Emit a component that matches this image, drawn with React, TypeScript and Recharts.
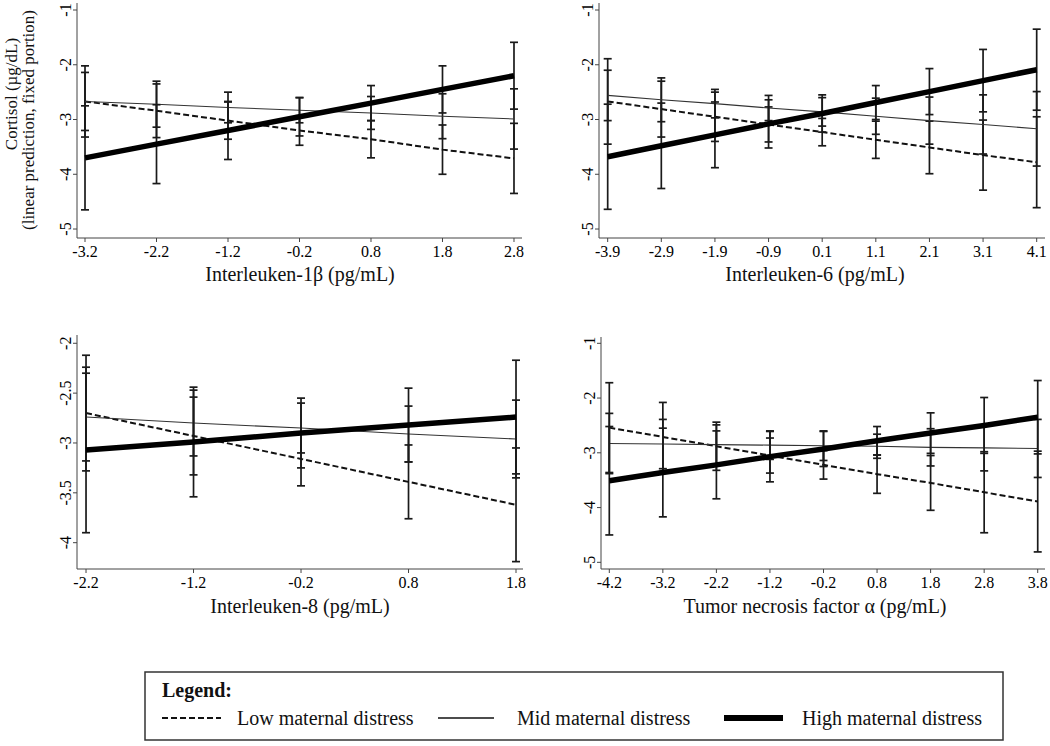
import React from 'react';
import { LineChart, Line, XAxis, YAxis, ErrorBar } from 'recharts';

const FONT = "'Liberation Serif', 'Times New Roman', Times, serif";

// ---------- Panel 1: Interleuken-1β ----------
const il1bX = [-3.2, -2.2, -1.2, -0.2, 0.8, 1.8, 2.8];
const il1bLow = [-2.67, -2.84, -3.02, -3.2, -3.36, -3.55, -3.71];
const il1bMid = [-2.67, -2.72, -2.78, -2.83, -2.88, -2.94, -2.99];
const il1bHigh = [-3.7, -3.45, -3.2, -2.95, -2.7, -2.45, -2.2];
const il1bLowCI = [0.65, 0.49, 0.34, 0.27, 0.34, 0.45, 0.64];
const il1bMidCI = [0.53, 0.42, 0.28, 0.23, 0.3, 0.41, 0.55];
const il1bHighCI = [0.95, 0.72, 0.53, 0.35, 0.32, 0.43, 0.61];

// ---------- Panel 2: Interleuken-6 ----------
const il6X = [-3.9, -2.9, -1.9, -0.9, 0.1, 1.1, 2.1, 3.1, 4.1];
const il6Low = [-2.67, -2.81, -2.95, -3.09, -3.23, -3.37, -3.51, -3.65, -3.78];
const il6Mid = [-2.56, -2.64, -2.71, -2.79, -2.86, -2.94, -3.02, -3.09, -3.17];
const il6High = [-3.68, -3.48, -3.28, -3.08, -2.89, -2.69, -2.49, -2.29, -2.09];
const il6LowCI = [0.78, 0.51, 0.45, 0.32, 0.25, 0.34, 0.48, 0.64, 0.83];
const il6MidCI = [0.46, 0.4, 0.26, 0.23, 0.26, 0.33, 0.43, 0.54, 0.68];
const il6HighCI = [0.96, 0.78, 0.6, 0.44, 0.34, 0.31, 0.42, 0.57, 0.74];

// ---------- Panel 3: Interleuken-8 ----------
const il8X = [-2.2, -1.2, -0.2, 0.8, 1.8];
const il8Low = [-2.7, -2.93, -3.16, -3.39, -3.62];
const il8Mid = [-2.74, -2.8, -2.85, -2.91, -2.96];
const il8High = [-3.07, -2.99, -2.9, -2.82, -2.74];
const il8LowCI = [0.58, 0.39, 0.27, 0.37, 0.57];
const il8MidCI = [0.44, 0.33, 0.25, 0.28, 0.39];
const il8HighCI = [0.83, 0.55, 0.35, 0.37, 0.57];

// ---------- Panel 4: Tumor necrosis factor α ----------
const tnfX = [-4.2, -3.2, -2.2, -1.2, -0.2, 0.8, 1.8, 2.8, 3.8];
const tnfLow = [-2.54, -2.71, -2.88, -3.05, -3.22, -3.39, -3.55, -3.72, -3.89];
const tnfMid = [-2.83, -2.84, -2.85, -2.86, -2.87, -2.88, -2.9, -2.91, -2.92];
const tnfHigh = [-3.51, -3.36, -3.22, -3.07, -2.93, -2.78, -2.64, -2.5, -2.35];
const tnfLowCI = [0.82, 0.63, 0.44, 0.32, 0.26, 0.35, 0.5, 0.74, 0.92];
const tnfMidCI = [0.55, 0.45, 0.36, 0.26, 0.27, 0.22, 0.34, 0.42, 0.53];
const tnfHighCI = [0.99, 0.81, 0.62, 0.46, 0.32, 0.26, 0.37, 0.51, 0.67];

// ---------- Axis ticks ----------
const yTicksWide = [-5, -4, -3, -2, -1];
const yTicksIL8 = [-4, -3.5, -3, -2.5, -2];

// ---------- Titles ----------
const xTitles = [
  'Interleuken-1β (pg/mL)',
  'Interleuken-6 (pg/mL)',
  'Interleuken-8 (pg/mL)',
  'Tumor necrosis factor α (pg/mL)',
];
const yTitleLines = ['Cortisol (µg/dL)', '(linear prediction, fixed portion)'];
const legendTitle = 'Legend:';
const seriesNames = ['Low maternal distress', 'Mid maternal distress', 'High maternal distress'];

type Cfg = {
  left: number; top: number; width: number; height: number;
  plotL: number; plotR: number; plotT: number; plotB: number;
  xDomain: [number, number]; yDomain: [number, number];
  xTicks: number[]; yTicks: number[];
  x: number[]; low: number[]; mid: number[]; high: number[];
  lowCI: number[]; midCI: number[]; highCI: number[];
};

const panels: Cfg[] = [
  {
    left: 0, top: 0, width: 540, height: 300,
    plotL: 77, plotR: 522, plotT: 3, plotB: 238,
    xDomain: [-3.312, 2.912], yDomain: [-5.164, -0.872],
    xTicks: il1bX, yTicks: yTicksWide,
    x: il1bX, low: il1bLow, mid: il1bMid, high: il1bHigh,
    lowCI: il1bLowCI, midCI: il1bMidCI, highCI: il1bHighCI,
  },
  {
    left: 540, top: 0, width: 510, height: 300,
    plotL: 599, plotR: 1045, plotT: 3, plotB: 238,
    xDomain: [-4.062, 4.255], yDomain: [-5.164, -0.872],
    xTicks: il6X, yTicks: yTicksWide,
    x: il6X, low: il6Low, mid: il6Mid, high: il6High,
    lowCI: il6LowCI, midCI: il6MidCI, highCI: il6HighCI,
  },
  {
    left: 0, top: 310, width: 540, height: 290,
    plotL: 77, plotR: 523, plotT: 335, plotB: 569,
    xDomain: [-2.284, 1.865], yDomain: [-4.264, -1.917],
    xTicks: il8X, yTicks: yTicksIL8,
    x: il8X, low: il8Low, mid: il8Mid, high: il8High,
    lowCI: il8LowCI, midCI: il8MidCI, highCI: il8HighCI,
  },
  {
    left: 540, top: 310, width: 510, height: 290,
    plotL: 601, plotR: 1045, plotT: 337, plotB: 569,
    xDomain: [-4.355, 3.936], yDomain: [-5.122, -0.885],
    xTicks: tnfX, yTicks: yTicksWide,
    x: tnfX, low: tnfLow, mid: tnfMid, high: tnfHigh,
    lowCI: tnfLowCI, midCI: tnfMidCI, highCI: tnfHighCI,
  },
];

const tickStyle = { fontFamily: FONT, fontSize: 16 };

const XTick = (props: any) => {
  const { x, y, payload } = props;
  return (
    <text x={x} y={y + 15} textAnchor="middle" style={tickStyle} fill="#000">
      {String(payload.value)}
    </text>
  );
};

const YTick = (props: any) => {
  const { x, y, payload } = props;
  return (
    <text
      x={x}
      y={y}
      transform={`rotate(-90 ${x} ${y})`}
      textAnchor="middle"
      style={tickStyle}
      fill="#000"
    >
      {String(payload.value)}
    </text>
  );
};

function Panel({ cfg }: { cfg: Cfg }) {
  const data = cfg.x.map((v, i) => ({
    x: v,
    low: cfg.low[i],
    mid: cfg.mid[i],
    high: cfg.high[i],
    lowE: cfg.lowCI[i],
    midE: cfg.midCI[i],
    highE: cfg.highCI[i],
  }));
  return (
    <div style={{ position: 'absolute', left: cfg.left, top: cfg.top, width: cfg.width, height: cfg.height }}>
      <LineChart
        width={cfg.width}
        height={cfg.height}
        data={data}
        margin={{ top: cfg.plotT - cfg.top, right: cfg.left + cfg.width - cfg.plotR, bottom: 0, left: 0 }}
      >
        <XAxis
          type="number"
          dataKey="x"
          domain={cfg.xDomain}
          ticks={cfg.xTicks}
          interval={0}
          allowDataOverflow
          height={cfg.top + cfg.height - cfg.plotB}
          tickSize={4}
          tickMargin={0}
          stroke="#444"
          tick={XTick}
        />
        <YAxis
          type="number"
          domain={cfg.yDomain}
          ticks={cfg.yTicks}
          interval={0}
          allowDataOverflow
          width={cfg.plotL - cfg.left}
          tickSize={4}
          tickMargin={2}
          stroke="#444"
          tick={YTick}
        />
        <Line
          type="linear"
          dataKey="low"
          stroke="#111"
          strokeWidth={2}
          strokeDasharray="6 3"
          dot={false}
          activeDot={false}
          isAnimationActive={false}
        >
          <ErrorBar dataKey="lowE" direction="y" width={4} stroke="#1a1a1a" strokeWidth={1.7} />
        </Line>
        <Line
          type="linear"
          dataKey="mid"
          stroke="#333"
          strokeWidth={1.1}
          dot={false}
          activeDot={false}
          isAnimationActive={false}
        >
          <ErrorBar dataKey="midE" direction="y" width={4} stroke="#1a1a1a" strokeWidth={1.7} />
        </Line>
        <Line
          type="linear"
          dataKey="high"
          stroke="#000"
          strokeWidth={5.5}
          dot={false}
          activeDot={false}
          isAnimationActive={false}
        >
          <ErrorBar dataKey="highE" direction="y" width={4} stroke="#1a1a1a" strokeWidth={1.7} />
        </Line>
      </LineChart>
    </div>
  );
}

export default function App() {
  return (
    <div style={{ position: 'absolute', left: 0, top: 0, width: 1050, height: 746, background: '#fff', overflow: 'hidden' }}>
      {panels.map((p, i) => (
        <Panel key={i} cfg={p} />
      ))}
      <svg
        width={1050}
        height={746}
        style={{ position: 'absolute', left: 0, top: 0, pointerEvents: 'none', fontFamily: FONT }}
      >
        <text x={300} y={281} textAnchor="middle" fontSize={20} fill="#111">{xTitles[0]}</text>
        <text x={815} y={281} textAnchor="middle" fontSize={20} fill="#111">{xTitles[1]}</text>
        <text x={300} y={613} textAnchor="middle" fontSize={20} fill="#111">{xTitles[2]}</text>
        <text x={815} y={613} textAnchor="middle" fontSize={20} fill="#111">{xTitles[3]}</text>

        <text x={17} y={94} transform="rotate(-90 17 94)" textAnchor="middle" fontSize={17} fill="#111">
          {yTitleLines[0]}
        </text>
        <text x={34} y={120} transform="rotate(-90 34 120)" textAnchor="middle" fontSize={17} fill="#111">
          {yTitleLines[1]}
        </text>

        <rect x={145} y={672} width={858} height={68} fill="none" stroke="#333" strokeWidth={1.5} />
        <text x={162} y={697} fontSize={20} fontWeight="bold" fill="#111">{legendTitle}</text>
        <line x1={162} x2={221} y1={718} y2={718} stroke="#111" strokeWidth={2} strokeDasharray="6 3" />
        <text x={237} y={725} fontSize={20} fill="#111">{seriesNames[0]}</text>
        <line x1={438} x2={494} y1={718} y2={718} stroke="#111" strokeWidth={1.5} />
        <text x={517} y={725} fontSize={20} fill="#111">{seriesNames[1]}</text>
        <line x1={724} x2={783} y1={718} y2={718} stroke="#000" strokeWidth={6} />
        <text x={802} y={725} fontSize={20} fill="#111">{seriesNames[2]}</text>
      </svg>
    </div>
  );
}
